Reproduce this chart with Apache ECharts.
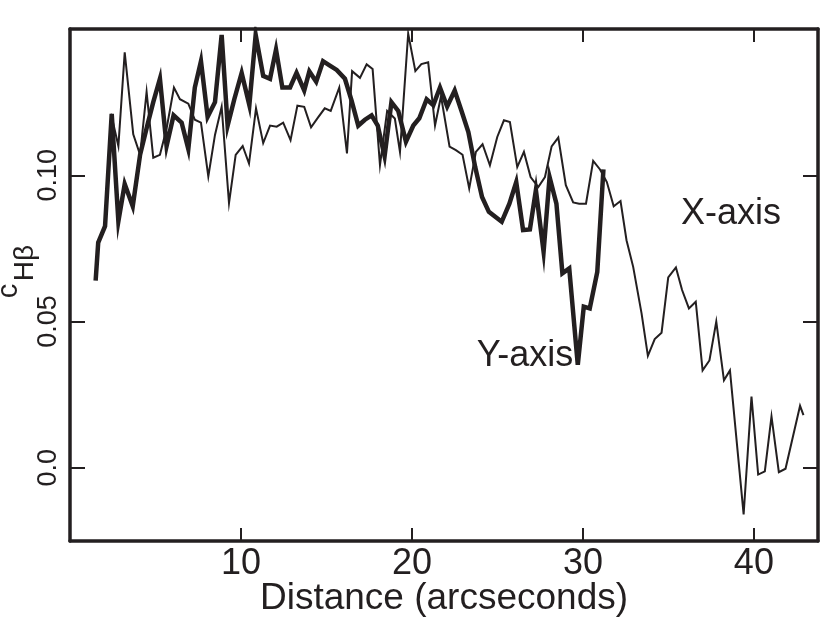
<!DOCTYPE html>
<html>
<head>
<meta charset="utf-8">
<script src="https://cdn.jsdelivr.net/npm/echarts@6/dist/echarts.min.js"></script>
<style>
    html, body {margin: 0; padding: 0; background: #fff;}
    #chart {width: 830px; height: 618px;}
</style>
</head>
<body>
<div id="chart"></div>
<script>
// X-axis cut (thin line)
var xCutDist = [2.4, 2.83, 3.2, 3.7, 4.1, 4.48, 4.87, 5.26, 5.65, 6.08, 6.43, 6.92, 7.3, 7.66,
    8.09, 8.48, 8.87, 9.3, 9.69, 10.1, 10.47, 10.88, 11.3, 11.7, 12.09, 12.47, 12.9, 13.3,
    13.7, 14.1, 14.5, 14.9, 15.25, 15.75, 16.2, 16.5, 16.96, 17.35, 17.7, 18.13, 18.55, 19.0,
    19.3, 19.78, 20.2, 20.55, 20.95, 21.35, 21.7, 22.2, 22.57, 22.96, 23.35, 23.74, 24.13,
    24.56, 24.99, 25.38, 25.73, 26.16, 26.55, 26.94, 27.39, 27.78, 28.17, 28.56, 29.0, 29.43,
    29.78, 30.18, 30.6, 31.0, 31.4, 31.8, 32.2, 32.55, 32.94, 33.43, 33.8, 34.2, 34.6, 34.99,
    35.44, 35.8, 36.2, 36.6, 37.0, 37.4, 37.8, 38.25, 38.6, 39.4, 39.86, 40.25, 40.64, 41.03,
    41.46, 41.85, 42.7, 42.9];
var xCutC = [0.121, 0.110, 0.142, 0.114, 0.107, 0.1285, 0.106, 0.107, 0.116, 0.130, 0.126, 0.1245, 0.119, 0.118,
    0.0996, 0.1138, 0.1234, 0.0905, 0.107, 0.110, 0.104, 0.1229, 0.111, 0.117, 0.1166, 0.118, 0.112, 0.1238,
    0.1234, 0.1164, 0.1197, 0.1229, 0.122, 0.130, 0.1075, 0.1356, 0.1333, 0.1379, 0.1363, 0.1035, 0.122, 0.1194,
    0.108, 0.1484, 0.1356, 0.138, 0.1386, 0.117, 0.127, 0.1098, 0.1086, 0.107, 0.0955, 0.108, 0.1106,
    0.1034, 0.1131, 0.1188, 0.1182, 0.1028, 0.108, 0.0994, 0.096, 0.0994, 0.1099, 0.1129, 0.0966, 0.0907,
    0.0903, 0.0903, 0.1049, 0.102, 0.0977, 0.0894, 0.0912, 0.0778, 0.0687, 0.0528, 0.0383, 0.044, 0.0462, 0.0651,
    0.0685, 0.0608, 0.0545, 0.0568, 0.0333, 0.0367, 0.050, 0.0299, 0.0333, -0.0159, 0.0244, -0.0023, -0.0012, 0.0176,
    -0.0015, -0.0003, 0.0212, 0.018];

// Y-axis cut (thick line)
var yCutDist = [1.5, 1.65, 2.05, 2.44, 2.83, 3.2, 3.67, 4.1, 4.52, 4.87, 5.26, 5.65, 6.06, 6.53,
    6.92, 7.3, 7.66, 8.05, 8.48, 8.87, 9.22, 9.61, 10.04, 10.49, 10.86, 11.3, 11.7, 12.05,
    12.42, 12.87, 13.25, 13.7, 14.0, 14.4, 14.8, 15.2, 15.6, 16.08, 16.47, 16.86, 17.25, 17.64,
    18.0, 18.4, 18.8, 19.2, 19.65, 20.08, 20.43, 20.86, 21.25, 21.64, 22.06, 22.5, 22.9, 23.3,
    23.7, 24.1, 24.5, 25.25, 25.7, 26.1, 26.5, 26.9, 27.25, 27.7, 28.05, 28.45, 28.8, 29.2,
    29.7, 30.05, 30.4, 30.84, 31.2];
var yCutC = [0.064, 0.077, 0.0826, 0.121, 0.0843, 0.097, 0.0894, 0.107, 0.117, 0.125, 0.133, 0.110, 0.1205, 0.118,
    0.109, 0.130, 0.139, 0.120, 0.125, 0.148, 0.117, 0.126, 0.135, 0.124, 0.148, 0.134, 0.133, 0.143,
    0.130, 0.130, 0.135, 0.129, 0.1355, 0.132, 0.139, 0.1375, 0.136, 0.133, 0.1255, 0.117, 0.119, 0.1205,
    0.117, 0.1065, 0.125, 0.122, 0.1115, 0.117, 0.1195, 0.126, 0.124, 0.130, 0.1235, 0.129, 0.122, 0.1148,
    0.1028, 0.0926, 0.0875, 0.0841, 0.0903, 0.0977, 0.0813, 0.0815, 0.0949, 0.0739, 0.0994, 0.0903, 0.0665, 0.0682,
    0.0352, 0.0551, 0.0545, 0.067, 0.102];

var yTickValues = [0, 0.05, 0.10];
var yTickLabels = ['0.0', '0.05', '0.10'];

var ink = '#231f20';
var font = 'Liberation Sans, Arial, Helvetica, sans-serif';

initChart();

function initChart() {
    var myChart = echarts.init(document.getElementById('chart'), null, {renderer: 'canvas'});
    myChart.setOption(buildOption());
}

function zip(xs, ys) {
    var out = [];
    for (var i = 0; i < xs.length; i++) {
        out.push([xs[i], ys[i]]);
    }
    return out;
}

function xAxisBase(pos, showLabel) {
    return {
        type: 'value',
        position: pos,
        min: 0,
        max: 43.75,
        interval: 10,
        axisLine: {show: true, onZero: false, lineStyle: {color: ink, width: 3.5}},
        axisTick: {show: true, inside: true, length: 13, lineStyle: {color: ink, width: 2}},
        axisLabel: {
            show: showLabel,
            showMinLabel: false,
            showMaxLabel: false,
            margin: 5,
            fontSize: 36,
            fontFamily: font,
            color: ink
        },
        splitLine: {show: false}
    };
}

function yAxisBase(pos, showLabel) {
    return {
        type: 'value',
        position: pos,
        min: -0.025,
        max: 0.15,
        axisLine: {show: true, onZero: false, lineStyle: {color: ink, width: 3.5}},
        axisTick: {show: true, inside: true, length: 15, customValues: yTickValues,
            lineStyle: {color: ink, width: 2}},
        axisLabel: {
            show: showLabel,
            customValues: yTickValues,
            rotate: 90,
            margin: 8,
            fontSize: 27,
            fontFamily: font,
            color: ink,
            formatter: function (v) {
                for (var i = 0; i < yTickValues.length; i++) {
                    if (Math.abs(v - yTickValues[i]) < 1e-9) return yTickLabels[i];
                }
                return '';
            }
        },
        splitLine: {show: false}
    };
}

function buildOption() {
    var bottomX = xAxisBase('bottom', true);
    bottomX.name = 'Distance (arcseconds)';
    bottomX.nameLocation = 'middle';
    bottomX.nameGap = 39;
    bottomX.nameMoveOverlap = false;
    bottomX.nameTextStyle = {fontSize: 37, fontFamily: font, color: ink};

    var topX = xAxisBase('top', false);
    var leftY = yAxisBase('left', true);
    var rightY = yAxisBase('right', false);

    return {
        animation: false,
        backgroundColor: '#fff',
        grid: {left: 70, right: 12, top: 29, bottom: 77, outerBoundsMode: 'none', containLabel: false},
        xAxis: [bottomX, topX],
        yAxis: [leftY, rightY],
        graphic: [
            {
                type: 'text', x: 9, y: 291, rotation: Math.PI / 2,
                style: {text: 'c', fontSize: 29, fontFamily: font, fill: ink,
                    align: 'center', verticalAlign: 'middle'}
            },
            {
                type: 'text', x: 25, y: 263, rotation: Math.PI / 2,
                style: {text: 'Hβ', fontSize: 28, fontFamily: font, fill: ink,
                    align: 'center', verticalAlign: 'middle'}
            },
            {
                type: 'text', x: 731, y: 214,
                style: {text: 'X-axis', fontSize: 36, fontFamily: font, fill: ink,
                    align: 'center', verticalAlign: 'middle'}
            },
            {
                type: 'text', x: 525, y: 356,
                style: {text: 'Y-axis', fontSize: 36, fontFamily: font, fill: ink,
                    align: 'center', verticalAlign: 'middle'}
            }
        ],
        series: [
            {
                name: 'X-axis',
                type: 'line',
                xAxisIndex: 0,
                yAxisIndex: 0,
                data: zip(xCutDist, xCutC),
                showSymbol: false,
                symbol: 'none',
                clip: true,
                lineStyle: {color: ink, width: 2, join: 'miter'}
            },
            {
                name: 'Y-axis',
                type: 'line',
                xAxisIndex: 0,
                yAxisIndex: 0,
                data: zip(yCutDist, yCutC),
                showSymbol: false,
                symbol: 'none',
                clip: true,
                lineStyle: {color: ink, width: 4.5, join: 'miter'}
            }
        ]
    };
}
</script>
</body>
</html>
